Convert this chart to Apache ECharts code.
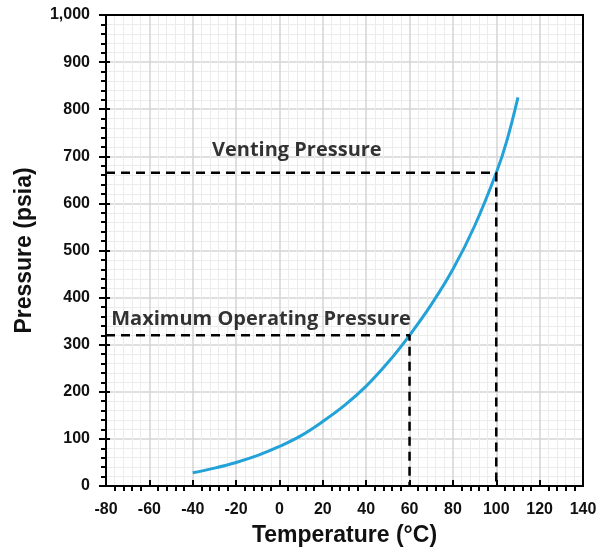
<!DOCTYPE html>
<html>
<head>
<meta charset="utf-8">
<script src="https://cdn.jsdelivr.net/npm/echarts@6/dist/echarts.min.js"></script>
<style>
  html, body { margin: 0; padding: 0; background: #fff; }
  #chart { width: 600px; height: 553px; }
</style>
</head>
<body>
<div id="chart"></div>
<script>
// Vapour pressure curve: temperature (°C) vs pressure (psia)
const temperatures = [-40, -30, -20, -10, 0, 10, 20, 30, 40, 50, 60, 70, 80, 90, 100, 105, 110];
const pressures    = [28, 38, 50, 65, 84, 107, 137, 171, 212, 262, 320, 385, 460, 552, 665, 735, 825];

// Reference levels
const maxOperating = { temp: 60, pressure: 320, label: 'Maximum Operating Pressure', labelTemp: -8.5 };
const venting      = { temp: 100, pressure: 665, label: 'Venting Pressure', labelTemp: 8 };

// Axis ranges
const xRange = { min: -80, max: 140, step: 20 };
const yRange = { min: 0, max: 1000, step: 100 };

const curve = temperatures.map((t, i) => [t, pressures[i]]);

function guide(level) {
  return [[xRange.min, level.pressure], [level.temp, level.pressure], [level.temp, yRange.min]];
}

const tickFont = { fontFamily: 'Liberation Sans, Arial, sans-serif', fontWeight: 'bold', fontSize: 16, color: '#111' };
const nameFont = { fontFamily: 'Liberation Sans, Arial, sans-serif', fontWeight: 'bold', fontSize: 23, color: '#111' };
const noteFont = { fontFamily: 'Open Sans, sans-serif', fontWeight: 'bold', fontSize: 20, color: '#000' };

const majorGrid = { show: true, showMinLine: false, showMaxLine: false, lineStyle: { color: '#d4d4d4', width: 1.5 } };
const minorGrid = { show: true, lineStyle: { color: '#ececec', width: 1 } };
const plotRect = { left: 106, right: 17, top: 15, bottom: 67, outerBoundsMode: 'none', containLabel: false };

const chart = echarts.init(document.getElementById('chart'), null, { renderer: 'canvas' });

chart.setOption({
  animation: false,
  backgroundColor: '#ffffff',
  grid: [
    // frame drawn above the grid lines
    Object.assign({ show: true, z: 3, borderColor: '#000', borderWidth: 2, backgroundColor: 'transparent' }, plotRect),
    // same rectangle, carries the second half of the tick marks
    Object.assign({ show: false }, plotRect)
  ],
  xAxis: [
    {
      gridIndex: 0, type: 'value', position: 'bottom',
      min: xRange.min, max: xRange.max, interval: xRange.step,
      name: 'Temperature (°C)', nameLocation: 'middle', nameGap: 38,
      nameTextStyle: nameFont,
      axisLine: { show: true, onZero: false, lineStyle: { color: '#000', width: 2 } },
      axisTick: { show: true, inside: true, length: 6, lineStyle: { color: '#000', width: 2 } },
      axisLabel: Object.assign({ margin: 16 }, tickFont),
      splitLine: majorGrid,
      minorTick: { show: false },
      minorSplitLine: minorGrid
    },
    {
      // outward minor ticks along the bottom edge
      gridIndex: 1, type: 'value', position: 'bottom',
      min: xRange.min, max: xRange.max, interval: xRange.step,
      axisLine: { show: false, onZero: false }, axisLabel: { show: false },
      axisTick: { show: false, inside: false },
      splitLine: { show: false },
      minorTick: { show: true, splitNumber: 5, length: 5, lineStyle: { color: '#000', width: 2 } }
    }
  ],
  yAxis: [
    {
      gridIndex: 0, type: 'value', position: 'left',
      min: yRange.min, max: yRange.max, interval: yRange.step,
      name: 'Pressure (psia)', nameLocation: 'middle', nameGap: 70,
      nameTextStyle: nameFont,
      axisLine: { show: true, onZero: false, lineStyle: { color: '#000', width: 2 } },
      axisTick: { show: true, inside: false, length: 7, lineStyle: { color: '#000', width: 2 } },
      axisLabel: Object.assign({ margin: 16, formatter: v => v.toLocaleString('en-US') }, tickFont),
      splitLine: majorGrid,
      minorTick: { show: true, splitNumber: 5, length: 5, lineStyle: { color: '#000', width: 2 } },
      minorSplitLine: minorGrid
    },
    {
      // short inward part of the major ticks
      gridIndex: 1, type: 'value', position: 'left',
      min: yRange.min, max: yRange.max, interval: yRange.step,
      axisLine: { show: false, onZero: false }, axisLabel: { show: false },
      axisTick: { show: true, inside: true, length: 4, lineStyle: { color: '#000', width: 2 } },
      splitLine: { show: false }
    }
  ],
  series: [
    {
      type: 'line', name: 'Vapour pressure', data: curve,
      smooth: 0.4, showSymbol: false, symbol: 'none',
      lineStyle: { color: '#23a2d8', width: 3 },
      z: 3
    },
    {
      type: 'line', name: maxOperating.label, data: guide(maxOperating),
      showSymbol: false, symbol: 'none',
      lineStyle: { color: '#000', width: 2.5, type: [9, 6] },
      z: 4
    },
    {
      type: 'line', name: venting.label, data: guide(venting),
      showSymbol: false, symbol: 'none',
      lineStyle: { color: '#000', width: 2.5, type: [9, 6] },
      z: 4
    },
    {
      type: 'scatter', symbolSize: 0, silent: true,
      data: [
        { value: [maxOperating.labelTemp, maxOperating.pressure], label: { show: true, formatter: maxOperating.label, offset: [0, -16] } },
        { value: [venting.labelTemp, venting.pressure], label: { show: true, formatter: venting.label, offset: [0, -22] } }
      ],
      label: Object.assign({ position: 'inside' }, noteFont),
      z: 5
    }
  ]
});
</script>
</body>
</html>
